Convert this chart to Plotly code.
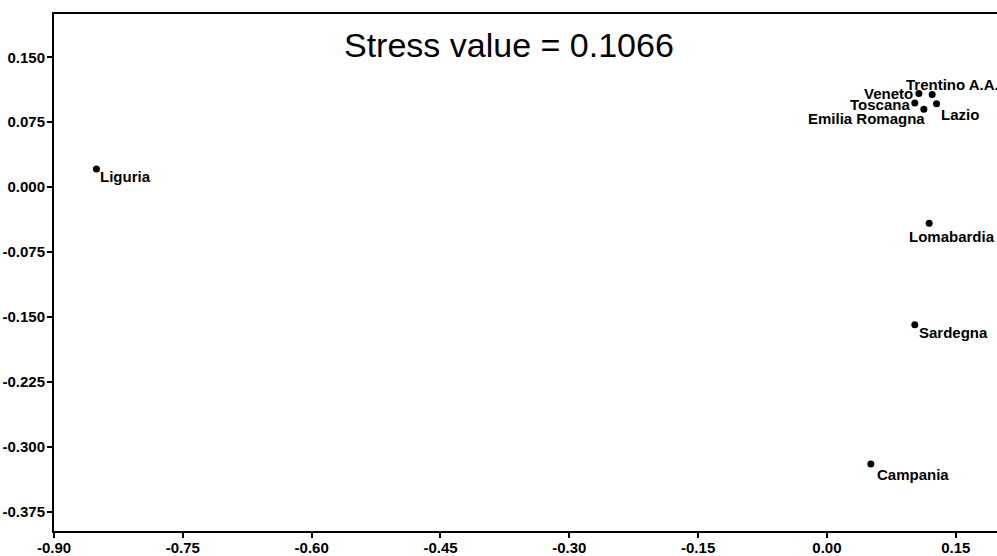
import plotly.graph_objects as go

# Data
regions = ["Liguria", "Trentino A.A.", "Veneto", "Toscana", "Emilia Romagna",
           "Lazio", "Lomabardia", "Sardegna", "Campania"]
dim1 = [-0.8506, 0.1225, 0.1070, 0.1023, 0.1128, 0.1276, 0.1190, 0.1023, 0.0511]
dim2 = [0.0210, 0.1070, 0.1080, 0.0970, 0.0900, 0.0964, -0.0418, -0.1590, -0.3200]

x_tickvals = [-0.90, -0.75, -0.60, -0.45, -0.30, -0.15, 0.00, 0.15]
x_ticktext = ["-0.90", "-0.75", "-0.60", "-0.45", "-0.30", "-0.15", "0.00", "0.15"]
y_tickvals = [0.150, 0.075, 0.000, -0.075, -0.150, -0.225, -0.300, -0.375]
y_ticktext = ["0.150", "0.075", "0.000", "-0.075", "-0.150", "-0.225", "-0.300", "-0.375"]

title_text = "Stress value = 0.1066"

# Label placement styles (anchor, xshift px, yshift px)
label_style = {
    "Liguria": ("left", 3, -8),
    "Trentino A.A.": ("left", -27, 10),
    "Veneto": ("right", -5, 0),
    "Toscana": ("right", -4, -1),
    "Emilia Romagna": ("right", 2, -9),
    "Lazio": ("left", 3, -11),
    "Lomabardia": ("left", -21, -13),
    "Sardegna": ("left", 3, -8),
    "Campania": ("left", 5, -11),
}

FONT = "Liberation Sans, Arial, sans-serif"

fig = go.Figure()
fig.add_trace(go.Scatter(
    x=dim1, y=dim2, mode="markers",
    marker=dict(color="black", size=7),
    hoverinfo="text", text=regions, showlegend=False,
))

for name, xv, yv in zip(regions, dim1, dim2):
    anc, dx, dy = label_style[name]
    fig.add_annotation(
        x=xv, y=yv, xref="x", yref="y", text="<b>%s</b>" % name,
        showarrow=False, xanchor=anc, yanchor="middle",
        xshift=dx, yshift=dy, borderpad=0,
        font=dict(family=FONT, size=15, color="black"),
    )

fig.add_annotation(
    x=0.483, y=0.94, xref="paper", yref="paper", text=title_text,
    showarrow=False, xanchor="center", yanchor="middle",
    font=dict(family=FONT, size=34, color="black"),
)

fig.update_layout(
    width=997, height=556,
    margin=dict(l=54, r=0, t=14, b=25),
    paper_bgcolor="white", plot_bgcolor="white",
    font=dict(family=FONT, size=15, color="black"),
    xaxis=dict(
        range=[-0.90, 0.198], tickvals=x_tickvals, ticktext=x_ticktext,
        showgrid=False, zeroline=False, showline=True, linecolor="black",
        linewidth=2, mirror=True, ticks="outside", ticklen=5, tickwidth=2,
        tickcolor="black", tickfont=dict(family=FONT, size=15, color="black", weight="bold"),
        ticklabelstandoff=-3, automargin=False,
    ),
    yaxis=dict(
        range=[-0.3975, 0.200], tickvals=y_tickvals, ticktext=y_ticktext,
        showgrid=False, zeroline=False, showline=True, linecolor="black",
        linewidth=2, mirror=False, ticks="outside", ticklen=5, tickwidth=2,
        tickcolor="black", tickfont=dict(family=FONT, size=15, color="black", weight="bold"),
        ticklabelstandoff=-1, automargin=False,
    ),
)

fig.write_html(
    "out.html",
    config={"displayModeBar": False},
    post_script="document.body.style.margin='0';document.body.style.overflow='hidden';",
)
